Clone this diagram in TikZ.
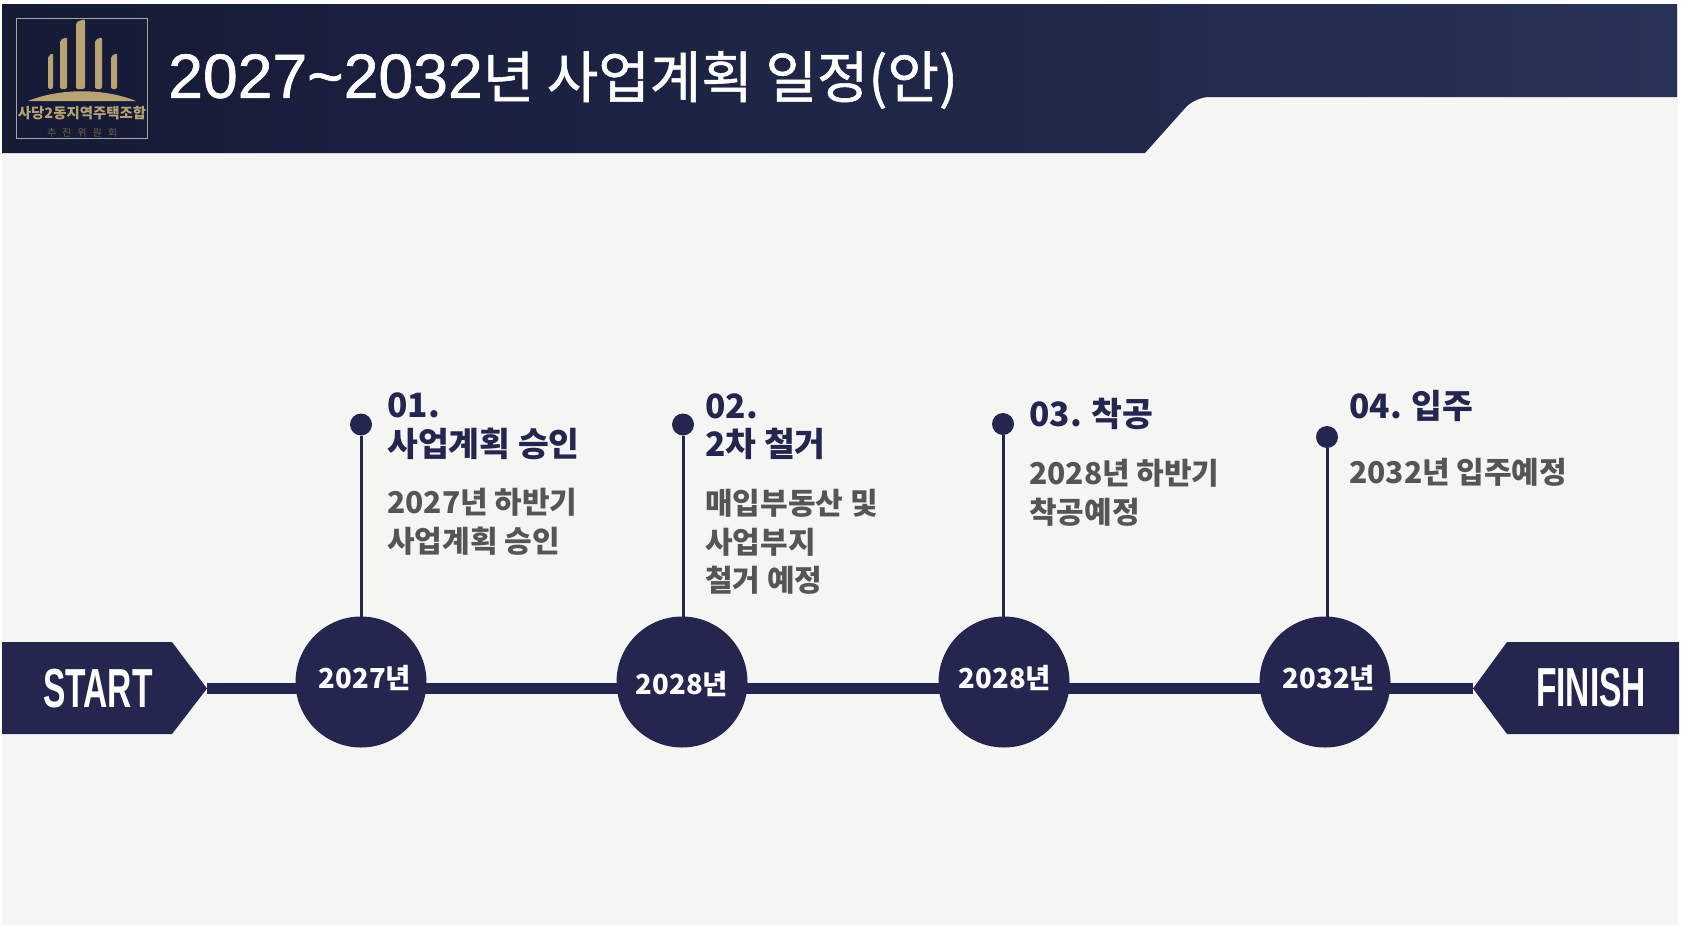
\documentclass[tikz,border=0pt]{standalone}
\usepackage{fontspec}
\setmainfont{Noto Sans CJK KR}
\newfontfamily\titlefont[FakeBold=1]{Noto Sans CJK KR}
\newfontfamily\titledigits[FakeBold=1]{Liberation Sans}
\newfontfamily\condfont[FakeStretch=0.61]{Liberation Sans}
\definecolor{navy}{HTML}{24264F}
\definecolor{paper}{HTML}{F5F5F3}
\definecolor{gold}{HTML}{B9A274}
\definecolor{bodygray}{HTML}{555552}
\definecolor{bandleft}{HTML}{151A35}
\definecolor{bandright}{HTML}{283157}
\tikzset{
    yearnode/.style={fill=navy, circle, minimum size=131pt, inner sep=0pt},
    yeartext/.style={inner sep=0pt, text=white, font=\fontsize{27.5}{34}\selectfont\bfseries},
    pinnode/.style={fill=navy, circle, minimum size=22pt, inner sep=0pt},
    headnode/.style={anchor=west, inner sep=0pt, align=left, text=navy, font=\fontsize{33.5}{38.6}\selectfont\bfseries},
    bodynode/.style={anchor=west, inner sep=0pt, align=left, text=bodygray, font=\fontsize{30}{38.6}\selectfont\bfseries},
    endnode/.style={inner sep=0pt, text=white, font=\fontsize{55}{60}\condfont\bfseries},
    pinline/.style={draw=navy, line width=3pt},
}
\begin{document}
\begin{tikzpicture}[x=1pt, y=-1pt]
        % Page
        \fill[white] (0, 0) rectangle (1682, 926);
        \fill[paper] (2, 4) rectangle (1678, 925);

        % Header band
        \shade[left color=bandleft, right color=bandright]
            (2, 4) -- (1677, 4) -- (1677, 97) [rounded corners=14pt] -- (1195, 97) [sharp corners] -- (1145, 153) -- (2, 153) -- cycle;
        \node[anchor=west, inner sep=0pt, text=white, font=\fontsize{56}{64}\titlefont] (title) at (168, 80) {{\fontsize{62.5}{64}\titledigits 2027\textasciitilde 2032}년 사업계획 일정(안)};

        % Logo
        \draw[draw=gray!70, line width=0.6pt] (16.5, 18) rectangle (147, 138);
        \foreach \xa/\xb/\ytop in {48/53/53, 60/67/37, 76/85/19, 95/102/37, 111/117/53} {
            \fill[gold, rounded corners=2pt] (\xa, 89) -- (\xa, \ytop + 3) -- (\xb, \ytop) -- (\xb, 89) -- cycle;
        }
        \fill[gold] (28, 101) .. controls (60, 88) and (104, 88) .. (136, 101) -- cycle;
        \node[inner sep=0pt, text=gold, font=\fontsize{14.4}{16}\selectfont\bfseries] (logoname) at (82, 113) {사당2동지역주택조합};
        \node[inner sep=0pt, text=gold!60!black, font=\fontsize{10}{11}\selectfont] (logosub) at (82, 133) {추\hspace{6pt}진\hspace{6pt}위\hspace{6pt}원\hspace{6pt}회};

        % Start and finish
        \coordinate (starttip) at (207, 688.5);
        \coordinate (finishtip) at (1473, 688.5);
        \fill[navy] (2, 642) -- (172, 642) -- (starttip) -- (172, 734) -- (2, 734) -- cycle;
        \fill[navy] (1679, 642) -- (1507, 642) -- (finishtip) -- (1507, 734) -- (1679, 734) -- cycle;
        \node[endnode] (start) at (98, 689) {START};
        \node[endnode] (finish) at (1591, 688) {FINISH};
        \draw[draw=navy, line width=11.5pt] (starttip) -- (finishtip);

        % Pins
        \node[pinnode] (pin1) at (361, 424.5) {};
        \node[pinnode] (pin2) at (683, 424.5) {};
        \node[pinnode] (pin3) at (1003, 424) {};
        \node[pinnode] (pin4) at (1327, 437) {};

        % Year circles
        \coordinate (circ1) at (361, 682);
        \coordinate (circ2) at (682, 682);
        \coordinate (circ3) at (1004, 682);
        \coordinate (circ4) at (1325, 682);
        \draw[pinline] (pin1) -- (pin1 |- circ1);
        \draw[pinline] (pin2) -- (pin2 |- circ2);
        \draw[pinline] (pin3) -- (pin3 |- circ3);
        \draw[pinline] (pin4) -- (pin4 |- circ4);
        \node[yearnode] (year1) at (circ1) {};
        \node[yearnode] (year2) at (circ2) {};
        \node[yearnode] (year3) at (circ3) {};
        \node[yearnode] (year4) at (circ4) {};
        \node[yeartext] (yeartext1) at (365, 678) {2027년};
        \node[yeartext] (yeartext2) at (682, 684) {2028년};
        \node[yeartext] (yeartext3) at (1005, 678) {2028년};
        \node[yeartext] (yeartext4) at (1329, 678) {2032년};

        % Step texts
        \node[headnode] (head1) at (387, 426.5) {01.\\사업계획 승인};
        \node[bodynode] (body1) at (387, 522) {2027년 하반기\\사업계획 승인};
        \node[headnode] (head2) at (705, 426.5) {02.\\2차 철거};
        \node[bodynode] (body2) at (705, 542) {매입부동산 및\\사업부지\\철거 예정};
        \node[headnode] (head3) at (1029, 414) {03. 착공};
        \node[bodynode] (body3) at (1029, 493) {2028년 하반기\\착공예정};
        \node[headnode] (head4) at (1349, 406) {04. 입주};
        \node[bodynode] (body4) at (1349, 472) {2032년 입주예정};
    \end{tikzpicture}
\end{document}
